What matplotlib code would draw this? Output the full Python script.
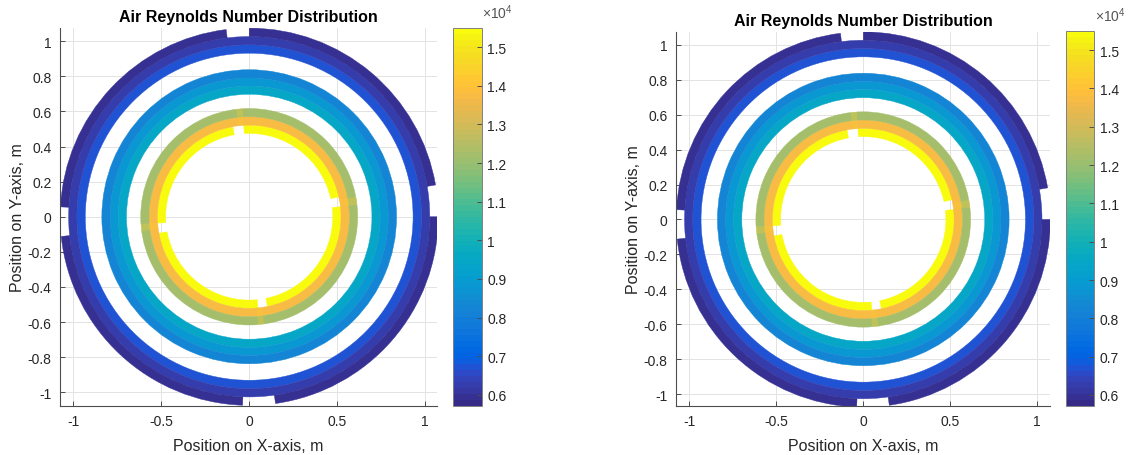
import numpy as np
import matplotlib
matplotlib.use("Agg")
import matplotlib.pyplot as plt
from matplotlib.patches import Wedge
from matplotlib.collections import PatchCollection
from matplotlib.colors import ListedColormap, Normalize

plt.rcParams["font.family"] = ["Liberation Sans", "DejaVu Sans"]
plt.rcParams["axes.unicode_minus"] = False
plt.rcParams["mathtext.fontset"] = "custom"
plt.rcParams["mathtext.rm"] = "Liberation Sans"
plt.rcParams["mathtext.it"] = "Liberation Sans:italic"
plt.rcParams["mathtext.bf"] = "Liberation Sans:bold"

# 64-entry parula colour table
PARULA = [
    (0.2081, 0.1663, 0.5292), (0.2116, 0.1898, 0.5777), (0.2123, 0.2138, 0.6270),
    (0.2081, 0.2386, 0.6771), (0.1959, 0.2645, 0.7279), (0.1707, 0.2919, 0.7792),
    (0.1253, 0.3242, 0.8303), (0.0591, 0.3598, 0.8683), (0.0117, 0.3875, 0.8820),
    (0.0060, 0.4086, 0.8828), (0.0165, 0.4266, 0.8786), (0.0329, 0.4430, 0.8720),
    (0.0498, 0.4586, 0.8641), (0.0629, 0.4737, 0.8554), (0.0723, 0.4887, 0.8467),
    (0.0779, 0.5040, 0.8384), (0.0793, 0.5200, 0.8312), (0.0749, 0.5375, 0.8263),
    (0.0641, 0.5570, 0.8240), (0.0488, 0.5772, 0.8228), (0.0343, 0.5966, 0.8199),
    (0.0265, 0.6137, 0.8135), (0.0239, 0.6287, 0.8038), (0.0231, 0.6418, 0.7913),
    (0.0228, 0.6535, 0.7768), (0.0267, 0.6642, 0.7607), (0.0384, 0.6743, 0.7436),
    (0.0590, 0.6838, 0.7254), (0.0843, 0.6928, 0.7062), (0.1133, 0.7015, 0.6859),
    (0.1453, 0.7098, 0.6646), (0.1801, 0.7177, 0.6424), (0.2178, 0.7250, 0.6193),
    (0.2586, 0.7317, 0.5954), (0.3022, 0.7376, 0.5712), (0.3482, 0.7424, 0.5473),
    (0.3953, 0.7459, 0.5244), (0.4420, 0.7481, 0.5033), (0.4871, 0.7491, 0.4840),
    (0.5300, 0.7491, 0.4661), (0.5709, 0.7485, 0.4494), (0.6099, 0.7473, 0.4337),
    (0.6473, 0.7456, 0.4188), (0.6834, 0.7435, 0.4044), (0.7184, 0.7411, 0.3905),
    (0.7525, 0.7384, 0.3768), (0.7858, 0.7356, 0.3633), (0.8185, 0.7327, 0.3498),
    (0.8507, 0.7299, 0.3360), (0.8824, 0.7274, 0.3217), (0.9139, 0.7258, 0.3063),
    (0.9450, 0.7261, 0.2886), (0.9739, 0.7314, 0.2666), (0.9938, 0.7455, 0.2403),
    (0.9990, 0.7653, 0.2164), (0.9955, 0.7861, 0.1967), (0.9880, 0.8066, 0.1794),
    (0.9789, 0.8271, 0.1633), (0.9697, 0.8481, 0.1475), (0.9626, 0.8705, 0.1309),
    (0.9589, 0.8949, 0.1132), (0.9598, 0.9218, 0.0948), (0.9661, 0.9514, 0.0755),
    (0.9763, 0.9831, 0.0538),
]
cmap = ListedColormap(PARULA, name="parula")

# Colour limits of the Reynolds number scale
re_min, re_max = 5720.0, 15490.0

# Annular bands (m) and the air Reynolds number in each band
band_r_in = [0.475, 0.522, 0.570, 0.698, 0.745, 0.791, 0.932, 0.980, 1.027]
band_r_out = [0.522, 0.570, 0.617, 0.745, 0.791, 0.838, 0.980, 1.027, 1.075]
band_re = [15400, 13730, 12210, 9500, 8850, 8240, 6710, 6250, 5980]

# Angular gaps (deg) in the innermost band and in the outer shell band
inner_gap_from = [6.3, 93.4, 184.0, 275.5]
inner_gap_to = [12.5, 100.3, 190.4, 281.5]
shell_gap_from = [0.0, 90.0, 177.0, 268.0]
shell_gap_to = [9.7, 97.0, 186.0, 278.0]
gapped_bands = {0: (inner_gap_from, inner_gap_to), 8: (shell_gap_from, shell_gap_to)}

# Tube joints crossing the two outer bands of the inner coil
joint_from = [6.4, 93.4, 183.8, 274.8]
joint_to = [10.5, 96.7, 187.6, 278.0]
joint_r_in, joint_r_out = 0.522, 0.617
joint_re = 14300

xticks = [-1, -0.5, 0, 0.5, 1]
yticks = [-1, -0.8, -0.6, -0.4, -0.2, 0, 0.2, 0.4, 0.6, 0.8, 1]
cbar_ticks = [6000, 7000, 8000, 9000, 10000, 11000, 12000, 13000, 14000, 15000]

TXT = "#262626"
AX = "#4d4d4d"


def arcs_for(gaps):
    starts, ends = gaps
    n = len(starts)
    out = []
    for k in range(n):
        a0 = ends[k]
        a1 = starts[(k + 1) % n]
        if a1 <= a0:
            a1 += 360.0
        out.append((a0, a1))
    return out


def draw_panel(fig, ax_rect, cax_rect, lims):
    ax = fig.add_axes(ax_rect)
    cax = fig.add_axes(cax_rect)
    norm = Normalize(re_min, re_max)

    patches, values = [], []
    for i, (r0, r1, re) in enumerate(zip(band_r_in, band_r_out, band_re)):
        arcs = arcs_for(gapped_bands[i]) if i in gapped_bands else [(0.0, 360.0)]
        for t0, t1 in arcs:
            patches.append(Wedge((0, 0), r1, t0, t1, width=r1 - r0))
            values.append(re)
    pc = PatchCollection(patches, cmap=cmap, norm=norm,
                         edgecolors="face", linewidths=0.3, zorder=2)
    pc.set_array(np.array(values, dtype=float))
    ax.add_collection(pc)

    jc = PatchCollection([Wedge((0, 0), joint_r_out, a, b, width=joint_r_out - joint_r_in)
                          for a, b in zip(joint_from, joint_to)],
                         cmap=cmap, norm=norm, linewidths=0, alpha=0.3, zorder=3)
    jc.set_array(np.full(len(joint_from), joint_re, dtype=float))
    ax.add_collection(jc)

    xl, yl = lims
    ax.set_xlim(*xl)
    ax.set_ylim(*yl)
    ax.set_xticks(xticks)
    ax.set_xticklabels([f"{v:g}" for v in xticks])
    ax.set_yticks(yticks)
    ax.set_yticklabels([f"{v:g}" for v in yticks])
    ax.grid(True, color="#e3e3e3", linewidth=0.7)
    ax.set_axisbelow(True)
    for s in ("top", "right"):
        ax.spines[s].set_visible(False)
    for s in ("left", "bottom"):
        ax.spines[s].set_color(AX)
        ax.spines[s].set_linewidth(0.8)
    ax.tick_params(direction="in", length=3.5, width=0.7, color=AX,
                   labelsize=10, labelcolor=TXT, pad=6)
    ax.set_title("Air Reynolds Number Distribution", fontsize=11.5,
                 fontweight="bold", color="black", pad=5)
    ax.set_xlabel("Position on X-axis, m", fontsize=11.5, color=TXT)
    ax.set_ylabel("Position on Y-axis, m", fontsize=11.5, color=TXT)
    ax.xaxis.set_label_coords(0.5, -0.086)
    ax.yaxis.set_label_coords(-0.094, 0.5)

    cb = fig.colorbar(pc, cax=cax)
    cb.set_ticks(cbar_ticks)
    cb.set_ticklabels([f"{v / 1e4:g}" for v in cbar_ticks])
    cb.outline.set_edgecolor("#808080")
    cb.outline.set_linewidth(0.7)
    cax.tick_params(direction="in", length=3.5, width=0.7, color=AX,
                    labelsize=10, labelcolor=TXT, pad=4)
    cax.text(1.02, 1.02, r"$\times$10$^{4}$", transform=cax.transAxes,
             ha="left", va="bottom", fontsize=10, color="#555555")
    return ax


W, H = 1128, 456
fig = plt.figure(figsize=(W / 100, H / 100), dpi=100)

draw_panel(fig,
           [60 / W, 1 - 406.7 / H, 377 / W, 377.4 / H],
           [452.7 / W, 1 - 406.7 / H, 29 / W, 377.4 / H],
           ((-1.076, 1.068), (-1.077, 1.074)))
draw_panel(fig,
           [676 / W, 1 - 406.7 / H, 374 / W, 374 / H],
           [1066 / W, 1 - 406.7 / H, 28 / W, 374.4 / H],
           ((-1.076, 1.073), (-1.067, 1.076)))

fig.savefig("out.png", dpi=100, facecolor="white")
